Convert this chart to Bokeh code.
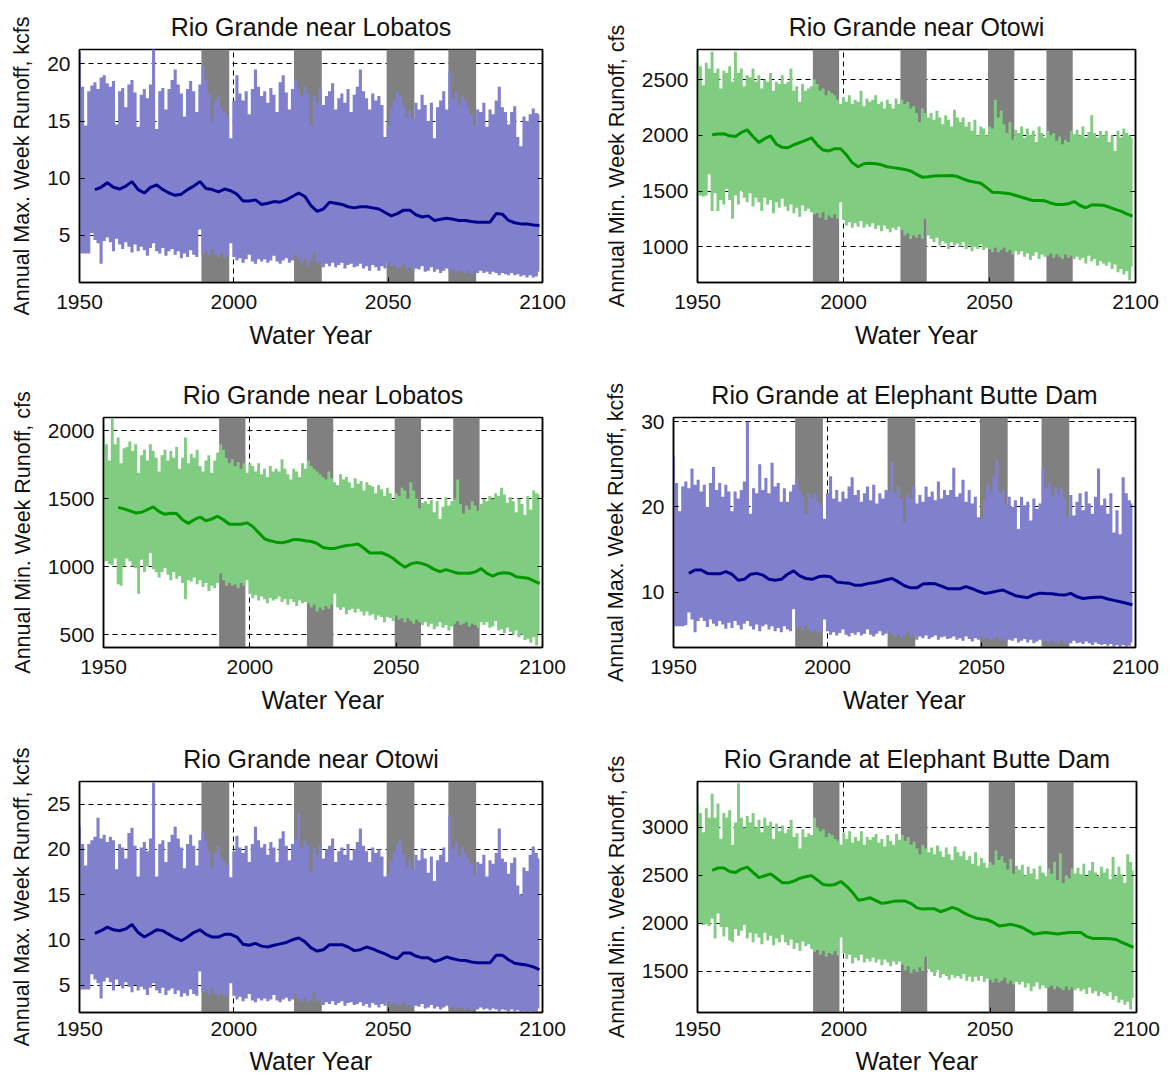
from bokeh.plotting import figure
from bokeh.layouts import row, column
from bokeh.models import ColumnDataSource, Range1d, FixedTicker, LinearAxis
from bokeh.embed import file_html
from bokeh.resources import INLINE

# ---------------- data ----------------
years = list(range(1950, 2100))
median_years = list(range(1955, 2100, 2))
x_ticks = [1950, 2000, 2050, 2100]
gray_left = [1989.5, 2019.5, 2049.5, 2069.5]
gray_right = [1998.5, 2028.5, 2058.5, 2078.5]

# Rio Grande near Lobatos, annual max week runoff (kcfs)
lobatos_max_hi = [
    21.0, 18.0, 14.6, 17.6, 18.1, 18.4, 17.8, 18.8, 19.0, 18.3,
    18.0, 18.5, 14.7, 17.6, 17.9, 16.2, 18.2, 18.6, 17.5, 14.5,
    17.3, 17.8, 17.0, 18.2, 21.3, 14.3, 17.6, 17.9, 16.0, 17.8,
    18.6, 19.5, 18.2, 17.4, 15.4, 17.8, 18.5, 17.6, 15.8, 18.2,
    19.8, 18.6, 17.4, 15.0, 16.8, 17.2, 16.2, 15.8, 15.4, 13.5,
    16.8, 19.0, 17.4, 16.8, 17.6, 15.6, 17.8, 19.5, 18.0, 17.2,
    17.6, 16.6, 17.9, 17.3, 15.8, 18.4, 19.0, 17.5, 16.0, 17.8,
    18.5, 17.8, 17.2, 18.0, 17.4, 14.6, 17.2, 16.6, 17.8, 16.4,
    17.2, 17.6, 18.3, 16.0, 17.0, 17.4, 16.6, 17.8, 15.8, 17.3,
    18.0, 19.5, 17.6, 17.0, 16.0, 17.4, 16.8, 17.2, 16.4, 13.6,
    14.6, 16.2, 16.9, 17.6, 17.2, 16.4, 15.3, 15.9, 15.2, 16.6,
    16.0, 17.3, 16.4, 15.0, 16.6, 13.5, 16.2, 16.8, 17.6, 16.0,
    19.3, 17.0, 17.6, 16.4, 17.2, 16.8, 16.2, 15.6, 14.6, 16.0,
    15.8, 16.6, 14.5, 16.0, 15.6, 16.8, 18.0, 16.2, 15.8, 14.7,
    15.8, 16.3, 13.6, 12.8, 15.4, 15.0, 15.6, 16.1, 15.7, 15.6,
]
lobatos_max_lo = [
    3.4, 3.4, 3.4, 3.4, 5.2, 4.6, 4.3, 2.5, 4.5, 4.8,
    4.4, 3.6, 4.7, 4.2, 3.8, 4.4, 4.0, 3.5, 4.2, 3.6,
    4.0, 3.7, 3.2, 3.9, 4.3, 3.6, 3.4, 3.9, 3.2, 3.6,
    3.8, 3.3, 3.6, 3.0, 3.4, 3.1, 3.7, 3.3, 3.1, 5.5,
    3.4, 3.6, 3.2, 3.8, 3.3, 3.1, 3.4, 3.0, 3.2, 4.3,
    3.1, 2.8, 3.0, 2.6, 2.9, 3.3, 2.7, 2.5, 2.9, 2.7,
    2.9, 2.6, 2.8, 3.2, 2.7, 2.5, 2.8, 3.0, 2.6, 2.8,
    3.3, 2.9, 2.6, 3.0, 2.4, 2.7, 3.5, 2.6, 2.8, 2.2,
    2.5, 2.3, 2.6, 2.2, 2.4, 2.6, 2.1, 2.4, 2.5, 2.2,
    2.3, 2.5, 2.1, 2.3, 1.9, 2.4, 2.2, 1.9, 2.3, 2.1,
    2.6, 2.3, 2.4, 2.1, 2.2, 2.5, 2.0, 2.2, 1.9, 2.1,
    2.0, 2.3, 1.8, 1.9, 2.2, 1.8, 2.0, 1.7, 1.9, 2.1,
    1.9, 2.0, 1.7, 1.9, 1.8, 1.7, 1.9, 1.6, 1.8, 1.7,
    1.9, 1.7, 1.8, 1.6, 1.8, 1.7, 1.5, 1.7, 1.6, 1.5,
    1.7, 1.5, 1.6, 1.4, 1.5, 1.3, 1.5, 1.3, 1.4, 1.8,
]
lobatos_max_med = [
    9.0, 9.2, 9.6, 9.2, 9.05, 9.3, 9.7, 9.0, 8.7, 9.2,
    9.4, 9.0, 8.7, 8.5, 8.6, 9.0, 9.3, 9.7, 9.1, 9.0,
    8.8, 9.05, 8.9, 8.6, 8.0, 8.0, 8.1, 7.7, 7.8, 7.95,
    7.9, 8.1, 8.4, 8.7, 8.4, 7.6, 7.1, 7.3, 7.9, 7.8,
    7.7, 7.5, 7.4, 7.5, 7.5, 7.4, 7.3, 7.0, 6.7, 6.9,
    7.2, 7.2, 6.8, 6.6, 6.7, 6.3, 6.4, 6.5, 6.4, 6.3,
    6.3, 6.2, 6.15, 6.15, 6.15, 6.9, 6.85, 6.3, 6.1, 6.0,
    6.0, 5.9, 5.85,
]

# Rio Grande near Otowi, annual min week runoff (cfs)
otowi_min_hi = [
    2700, 2620, 2450, 2650, 2600, 2750, 2560, 2600, 2420, 2580,
    2560, 2620, 2480, 2750, 2560, 2600, 2440, 2540, 2520, 2600,
    2480, 2540, 2420, 2500, 2480, 2560, 2400, 2480, 2460, 2540,
    2460, 2480, 2600, 2400, 2440, 2300, 2460, 2400, 2420, 2440,
    2500, 2460, 2400, 2420, 2360, 2400, 2380, 2360, 2320, 2280,
    2340, 2300, 2360, 2280, 2320, 2300, 2400, 2260, 2330, 2300,
    2320, 2360, 2280, 2300, 2240, 2320, 2280, 2240, 2330, 2280,
    2320, 2280, 2300, 2240, 2260, 2200, 2120, 2240, 2200, 2160,
    2200, 2140, 2220, 2160, 2100, 2180, 2140, 2080, 2230, 2160,
    2120, 2160, 2080, 2120, 2040, 2140, 2000, 2080, 2060, 2000,
    2080, 2060, 2320, 2160, 2220, 2100, 2020, 2120, 1960, 2050,
    2020, 2080, 1980, 2060, 2000, 2040, 1940, 2080, 2020, 1980,
    2040, 2000, 2020, 1950, 1990, 1920, 1960, 1940, 2040, 2010,
    2050, 2000, 2080, 1980, 2030, 2180, 2020, 1980, 2040, 2000,
    2040, 1940, 2000, 1860, 2040, 1980, 2060, 2020, 2000, 1980,
]
otowi_min_lo = [
    1460, 1460, 1450, 1460, 1650, 1320, 1480, 1320, 1420, 1380,
    1520, 1420, 1250, 1460, 1380, 1500, 1440, 1400, 1480, 1360,
    1440, 1400, 1320, 1440, 1380, 1420, 1300, 1400, 1350, 1430,
    1360, 1320, 1380, 1300, 1350, 1270, 1370, 1320, 1340, 1310,
    1290, 1300, 1260, 1310, 1240, 1280, 1260, 1290, 1250, 1400,
    1240, 1190, 1220, 1170, 1210, 1180, 1230, 1170, 1200, 1180,
    1210, 1160, 1190, 1140, 1190, 1160, 1130, 1170, 1150, 1180,
    1150, 1100, 1120, 1070, 1100, 1080, 1110, 1070, 1250, 1100,
    1070, 1040, 1080, 1010, 1050, 1030, 980, 1040, 1010, 1030,
    1000, 1040, 980, 1010, 960, 1000, 980, 1020, 970, 990,
    980, 950, 990, 950, 970, 990, 950, 970, 930, 960,
    930, 960, 910, 940, 880, 920, 950, 890, 930, 910,
    920, 940, 900, 930, 910, 890, 930, 900, 920, 890,
    910, 880, 900, 850, 920, 870, 890, 830, 870, 850,
    830, 860, 800, 840, 770, 800, 750, 780, 700, 820,
]
otowi_min_med = [
    2005, 2012, 2014, 1995, 1990, 2025, 2050, 1990, 1935, 1970,
    1995, 1920, 1892, 1888, 1915, 1935, 1955, 1978, 1915, 1868,
    1860, 1880, 1880, 1825, 1755, 1718, 1745, 1750, 1745, 1735,
    1718, 1710, 1702, 1694, 1680, 1650, 1624, 1628, 1634, 1636,
    1638, 1639, 1630, 1608, 1590, 1580, 1570, 1530, 1489, 1486,
    1482, 1475, 1460, 1444, 1428, 1414, 1414, 1412, 1392, 1378,
    1380, 1386, 1405, 1370, 1350, 1375, 1375, 1372, 1355, 1335,
    1320, 1295, 1275,
]

# Rio Grande near Lobatos, annual min week runoff (cfs)
lobatos_min_hi = [
    1950, 1900, 1780, 2095, 1900, 1950, 1760, 1870, 1880, 1920,
    1850, 1900, 1690, 1820, 1860, 1780, 1900, 1850, 1800, 1700,
    1820, 1860, 1780, 1850, 1800, 1880, 1720, 1800, 1950, 1760,
    1830, 1800, 1860, 1740, 1700, 1780, 1820, 1690, 1780, 1840,
    1900, 1860, 1800, 1760, 1790, 1740, 1770, 1720, 1760, 1690,
    1760, 1740, 1700, 1760, 1680, 1720, 1660, 1740, 1700, 1720,
    1700, 1790, 1720, 1680, 1640, 1720, 1700, 1660, 1760, 1720,
    1780, 1740, 1720, 1700, 1680, 1660, 1640, 1700, 1650, 1620,
    1600, 1680, 1640, 1660, 1620, 1580, 1650, 1610, 1630, 1560,
    1620, 1600, 1590, 1540, 1600, 1570, 1520, 1580, 1540, 1490,
    1540, 1520, 1580, 1560, 1500, 1620, 1560, 1500, 1430, 1470,
    1480, 1460, 1490, 1400, 1480, 1350, 1440, 1510, 1450, 1480,
    1500, 1640, 1460, 1390, 1450, 1420, 1480, 1450, 1410, 1460,
    1500, 1480, 1520, 1500, 1540, 1520, 1580, 1530, 1470, 1510,
    1480, 1400, 1500, 1460, 1380, 1520, 1420, 1560, 1540, 1530,
]
lobatos_min_lo = [
    1050, 1040, 1020, 1010, 1060, 870, 860, 1000, 1060, 1040,
    1000, 990, 800, 1050, 960, 1000, 1100, 980, 960, 920,
    960, 990, 940, 900, 960, 910, 930, 880, 760, 900,
    890, 920, 870, 900, 850, 880, 820, 860, 840, 880,
    950, 900, 860, 880, 860, 870, 840, 880, 860, 900,
    800, 770, 790, 750, 780, 760, 730, 770, 750, 760,
    780, 740, 760, 720, 760, 740, 710, 750, 730, 740,
    730, 700, 720, 670, 700, 680, 710, 690, 720, 800,
    700, 680, 700, 650, 680, 690, 660, 690, 670, 640,
    670, 640, 650, 610, 640, 630, 590, 630, 620, 600,
    640, 610, 620, 590, 620, 600, 580, 610, 590, 570,
    590, 560, 580, 540, 560, 590, 550, 570, 530, 560,
    580, 600, 570, 580, 590, 560, 580, 570, 550, 590,
    570, 590, 550, 560, 600, 530, 540, 510, 550, 520,
    500, 530, 480, 500, 460, 470, 440, 480, 420, 500,
]
lobatos_min_med = [
    1436, 1425, 1410, 1395, 1400, 1420, 1439, 1405, 1385, 1392,
    1390, 1345, 1318, 1345, 1365, 1337, 1350, 1371, 1345, 1312,
    1312, 1312, 1322, 1295, 1250, 1205, 1190, 1180, 1176, 1185,
    1200, 1198, 1190, 1185, 1170, 1140, 1134, 1134, 1145, 1155,
    1160, 1166, 1135, 1100, 1100, 1102, 1085, 1060, 1025, 995,
    1020, 1030, 1022, 1005, 980, 963, 978, 965, 951, 951,
    951, 960, 985, 950, 930, 950, 955, 950, 925, 920,
    915, 895, 875,
]

# Rio Grande at Elephant Butte Dam, annual max week runoff (kcfs)
butte_max_hi = [
    26.0, 22.8, 19.5, 22.4, 23.0, 22.2, 24.5, 22.6, 23.2, 21.8,
    22.6, 20.0, 22.8, 24.7, 22.0, 22.8, 21.2, 22.6, 21.8, 19.5,
    21.8, 21.0, 22.0, 23.0, 30.0, 19.2, 22.2, 21.6, 25.0, 22.0,
    23.4, 21.6, 25.2, 22.4, 22.8, 20.6, 22.2, 20.6, 21.8, 22.6,
    23.4, 22.0, 21.2, 19.2, 21.6, 21.0, 21.6, 20.6, 20.2, 18.6,
    21.6, 23.6, 21.0, 22.0, 20.6, 21.8, 21.0, 22.4, 23.5, 21.4,
    22.0, 20.6, 21.6, 22.4, 20.8, 22.6, 20.4, 21.6, 21.0, 22.0,
    21.8, 25.3, 21.6, 22.4, 21.0, 18.2, 21.4, 21.0, 22.4, 20.4,
    21.4, 20.6, 22.4, 21.2, 21.8, 20.8, 23.0, 21.0, 22.0, 21.4,
    22.0, 24.6, 21.2, 21.6, 23.2, 20.6, 22.0, 20.4, 21.2, 18.8,
    18.6, 20.8, 22.6, 21.8, 23.6, 25.5, 21.6, 22.0, 20.4, 21.2,
    20.0, 20.8, 17.4, 21.2, 20.2, 20.6, 18.4, 21.0, 19.8, 20.4,
    24.6, 22.2, 22.8, 21.2, 22.2, 21.6, 22.2, 21.0, 18.9, 21.4,
    19.0, 20.6, 21.6, 19.6, 21.8, 20.4, 19.2, 21.2, 24.5, 20.2,
    21.0, 19.2, 21.6, 17.0, 19.6, 16.8, 23.5, 21.6, 20.8, 20.4,
]
butte_max_lo = [
    6.0, 6.0, 6.0, 6.0, 6.1, 7.6, 6.8, 5.3, 6.6, 7.0,
    6.6, 5.9, 6.8, 6.3, 6.0, 6.6, 6.2, 5.7, 6.4, 5.8,
    6.6, 6.1, 5.6, 6.3, 6.6, 6.0, 5.6, 6.2, 5.4, 6.0,
    6.2, 5.6, 6.0, 5.4, 5.8, 5.3, 6.0, 5.6, 5.4, 8.0,
    5.7, 6.0, 5.5, 6.1, 5.5, 5.3, 5.6, 5.2, 5.4, 6.8,
    5.4, 5.0, 5.3, 4.9, 5.2, 5.6, 5.0, 4.8, 5.2, 5.0,
    5.3, 4.9, 5.1, 5.6, 5.0, 4.8, 5.1, 5.4, 4.9, 5.1,
    5.4, 5.0, 4.8, 5.1, 4.6, 4.9, 5.3, 4.8, 5.0, 4.4,
    4.8, 4.6, 4.9, 4.5, 4.7, 4.9, 4.4, 4.7, 4.8, 4.5,
    4.6, 4.8, 4.4, 4.6, 4.3, 4.8, 4.5, 4.2, 4.6, 4.4,
    4.8, 4.5, 4.6, 4.3, 4.5, 4.8, 4.3, 4.5, 4.2, 4.4,
    4.3, 4.6, 4.1, 4.3, 4.5, 4.1, 4.4, 4.0, 4.2, 4.4,
    4.2, 4.3, 4.0, 4.3, 4.1, 4.0, 4.3, 3.9, 4.1, 4.0,
    4.3, 4.0, 4.1, 3.9, 4.2, 4.0, 3.8, 4.1, 3.9, 3.8,
    3.9, 3.7, 3.9, 3.6, 3.8, 3.5, 3.8, 3.5, 3.7, 4.1,
]
butte_max_med = [
    12.2, 12.6, 12.6, 12.2, 12.15, 12.15, 12.4, 12.1, 11.4, 11.5,
    12.1, 12.2, 12.0, 11.5, 11.4, 11.5, 12.1, 12.5, 11.9, 11.6,
    11.5, 11.8, 11.9, 11.8, 11.2, 11.1, 11.05, 10.8, 10.8, 11.0,
    11.1, 11.25, 11.45, 11.6, 11.2, 10.75, 10.5, 10.5, 10.95, 11.0,
    10.98, 10.7, 10.4, 10.39, 10.4, 10.65, 10.4, 10.1, 9.85, 9.95,
    10.12, 10.25, 9.9, 9.58, 9.45, 9.35, 9.7, 9.88, 9.83, 9.8,
    9.7, 9.65, 9.85, 9.45, 9.25, 9.35, 9.41, 9.41, 9.2, 9.03,
    8.88, 8.7, 8.52,
]

# Rio Grande near Otowi, annual max week runoff (kcfs)
otowi_max_hi = [
    22.5, 20.6, 18.2, 20.6, 21.0, 21.4, 23.5, 21.2, 21.6, 20.8,
    21.4, 21.0, 17.8, 20.6, 20.2, 19.0, 21.8, 22.4, 20.4, 17.0,
    20.2, 20.8, 19.8, 21.2, 27.4, 17.0, 20.6, 21.0, 18.6, 20.8,
    21.6, 22.5, 21.2, 20.2, 17.9, 20.6, 21.6, 20.4, 18.2, 21.0,
    22.0, 21.0, 19.8, 18.0, 19.6, 20.4, 19.0, 18.6, 18.3, 16.9,
    19.8, 21.5, 20.2, 19.6, 20.4, 18.6, 20.6, 22.5, 21.0, 20.2,
    20.6, 19.4, 20.8, 20.2, 18.6, 21.2, 22.0, 20.4, 18.8, 20.6,
    21.2, 24.0, 20.2, 21.0, 20.4, 17.5, 20.2, 19.4, 20.6, 19.0,
    20.0, 20.4, 21.2, 18.6, 19.8, 20.2, 19.4, 20.6, 18.8, 20.0,
    20.8, 22.3, 20.4, 19.8, 18.6, 20.2, 19.6, 20.0, 19.2, 17.0,
    17.4, 18.8, 19.8, 20.6, 21.0, 19.4, 18.0, 18.8, 17.8, 19.4,
    18.8, 20.1, 19.0, 17.4, 19.2, 16.5, 18.8, 19.4, 20.2, 18.6,
    23.7, 20.0, 20.8, 19.2, 20.2, 19.6, 19.0, 18.4, 17.2, 18.6,
    18.4, 19.4, 17.0, 18.8, 18.4, 19.6, 22.3, 19.0, 18.6, 17.3,
    18.5, 19.1, 16.0, 15.0, 18.0, 17.6, 19.4, 20.3, 19.6, 19.0,
]
otowi_max_lo = [
    4.5, 4.5, 4.5, 4.5, 6.2, 5.6, 5.2, 3.5, 5.4, 5.8,
    5.3, 4.4, 5.6, 5.0, 4.6, 5.3, 4.8, 4.2, 5.0, 4.4,
    4.8, 4.5, 3.9, 4.7, 5.2, 4.4, 4.1, 4.7, 3.9, 4.4,
    4.6, 4.0, 4.4, 3.7, 4.1, 3.8, 4.5, 4.0, 3.8, 6.5,
    4.2, 4.4, 3.9, 4.6, 4.0, 3.8, 4.1, 3.7, 3.9, 5.2,
    3.8, 3.4, 3.7, 3.2, 3.5, 4.0, 3.3, 3.1, 3.5, 3.3,
    3.5, 3.2, 3.4, 3.9, 3.3, 3.1, 3.4, 3.6, 3.2, 3.4,
    4.0, 3.5, 3.2, 3.6, 3.0, 3.3, 4.2, 3.2, 3.4, 2.8,
    3.1, 2.9, 3.2, 2.8, 3.0, 3.2, 2.7, 3.0, 3.1, 2.8,
    2.9, 3.1, 2.7, 2.9, 2.5, 3.0, 2.8, 2.5, 2.9, 2.7,
    3.2, 2.9, 3.0, 2.7, 2.8, 3.1, 2.6, 2.8, 2.5, 2.7,
    2.6, 2.9, 2.4, 2.5, 2.8, 2.4, 2.6, 2.3, 2.5, 2.7,
    2.5, 2.6, 2.3, 2.5, 2.4, 2.3, 2.5, 2.2, 2.4, 2.3,
    2.5, 2.3, 2.4, 2.2, 2.4, 2.3, 2.1, 2.3, 2.2, 2.1,
    2.3, 2.1, 2.2, 2.0, 2.1, 1.9, 2.1, 1.9, 2.0, 2.4,
]
otowi_max_med = [
    10.7, 11.0, 11.4, 11.1, 11.0, 11.2, 11.7, 10.8, 10.3, 10.7,
    11.1, 11.0, 10.6, 10.2, 9.9, 10.3, 10.8, 11.1, 10.6, 10.3,
    10.3, 10.6, 10.6, 10.3, 9.5, 9.4, 9.6, 9.3, 9.2, 9.4,
    9.55, 9.7, 10.0, 10.2, 9.8, 9.1, 8.75, 8.9, 9.46, 9.46,
    9.46, 9.2, 8.8, 8.9, 9.2, 9.0, 8.7, 8.45, 8.1, 7.9,
    8.55, 8.55, 8.2, 8.0, 8.0, 7.6, 7.8, 8.1, 7.9, 7.75,
    7.7, 7.55, 7.45, 7.45, 7.45, 8.3, 8.3, 7.8, 7.4, 7.3,
    7.2, 7.0, 6.7,
]

# Rio Grande at Elephant Butte Dam, annual min week runoff (cfs)
butte_min_hi = [
    3250, 3150, 2950, 3200, 3100, 3350, 3100, 3250, 2880, 3150,
    3100, 3180, 2820, 3050, 3460, 3100, 3000, 3120, 3050, 3150,
    3000, 3080, 2950, 3100, 3020, 3060, 2880, 3040, 2960, 3020,
    2940, 2980, 3080, 2900, 2940, 2780, 2980, 2900, 2940, 2920,
    3100, 3000, 2960, 2980, 2900, 2940, 2920, 2880, 2860, 2820,
    2940, 2880, 2960, 2840, 2900, 2860, 2960, 2820, 2900, 2870,
    2900, 2930, 2840, 2880, 2800, 2920, 2860, 2820, 2930, 2870,
    2920, 2860, 2900, 2820, 2850, 2780, 2720, 2820, 2780, 2740,
    2790, 2720, 2810, 2750, 2690, 2790, 2720, 2660, 2800, 2740,
    2700, 2750, 2660, 2700, 2620, 2740, 2600, 2680, 2630, 2580,
    2640, 2610, 2760, 2660, 2700, 2630, 2560, 2670, 2520, 2600,
    2560, 2610, 2500, 2590, 2520, 2570, 2460, 2600, 2530, 2490,
    2570, 2520, 2640, 2450, 2730, 2420, 2500, 2470, 2570, 2520,
    2580, 2510, 2620, 2490, 2550, 2640, 2530, 2490, 2590, 2530,
    2570, 2460, 2690, 2490, 2590, 2510, 2420, 2720, 2640, 2550,
]
butte_min_lo = [
    2000, 1990, 1980, 1990, 1970, 2050, 1840, 2100, 1960, 1860,
    1960, 1820, 1800, 1940, 1870, 1920, 1980, 1840, 1900, 1800,
    1890, 1850, 1780, 1900, 1820, 1870, 1770, 1840, 1800, 1880,
    1800, 1770, 1830, 1730, 1790, 1710, 1810, 1760, 1780, 1730,
    1700, 1720, 1670, 1710, 1650, 1690, 1670, 1710, 1660, 1850,
    1690, 1630, 1670, 1580, 1640, 1610, 1670, 1590, 1630, 1600,
    1640, 1590, 1620, 1560, 1620, 1590, 1550, 1600, 1570, 1600,
    1570, 1510, 1550, 1480, 1520, 1490, 1540, 1500, 1650, 1520,
    1490, 1450, 1510, 1430, 1470, 1450, 1410, 1460, 1430, 1450,
    1420, 1470, 1400, 1440, 1390, 1440, 1400, 1450, 1390, 1420,
    1410, 1380, 1420, 1380, 1400, 1430, 1370, 1400, 1360, 1390,
    1360, 1390, 1330, 1370, 1290, 1340, 1380, 1310, 1350, 1320,
    1330, 1350, 1310, 1340, 1320, 1300, 1340, 1300, 1330, 1300,
    1320, 1290, 1310, 1260, 1330, 1270, 1290, 1240, 1280, 1260,
    1240, 1280, 1200, 1240, 1170, 1200, 1150, 1180, 1100, 1220,
]
butte_min_med = [
    2552, 2576, 2576, 2540, 2530, 2565, 2586, 2530, 2475, 2495,
    2515, 2470, 2421, 2421, 2440, 2470, 2485, 2497, 2450, 2403,
    2396, 2405, 2435, 2385, 2320, 2240, 2250, 2265, 2235, 2207,
    2217, 2228, 2231, 2231, 2205, 2160, 2147, 2150, 2150, 2120,
    2140, 2165, 2145, 2108, 2080, 2055, 2044, 2036, 2010, 1972,
    1978, 1988, 1975, 1955, 1920, 1886, 1895, 1902, 1895, 1887,
    1895, 1903, 1903, 1903, 1860, 1841, 1841, 1841, 1838, 1830,
    1800, 1775, 1748,
]

# ---------------- style ----------------
FONT = "Liberation Sans"
TXT = "#111111"
BLUE_BAND, BLUE_LINE = "#8080CC", "#00008C"
GREEN_BAND, GREEN_LINE = "#80CC80", "#009900"
GRAY = "#808080"


def panel(title, ylabel, y_lo, y_hi, y_ticks, hi, lo, med, band_color, line_color,
          width, height, left, right, top, bottom, tick_stand=12, label_stand=9):
    p = figure(width=width, height=height, x_range=Range1d(1950, 2100),
               y_range=Range1d(y_lo, y_hi), output_backend="svg",
               toolbar_location=None, title=title,
               min_border_left=left, min_border_right=right,
               min_border_top=top, min_border_bottom=bottom)
    p.background_fill_color = "white"
    p.border_fill_color = "white"
    p.outline_line_color = "black"
    p.outline_line_width = 1.5

    # dashed grid
    p.xgrid.ticker = FixedTicker(ticks=x_ticks)
    p.ygrid.ticker = FixedTicker(ticks=y_ticks)
    p.grid.grid_line_color = "black"
    p.grid.grid_line_dash = "5 4"
    p.grid.grid_line_width = 1

    # gray periods
    p.quad(left=gray_left, right=gray_right, bottom=y_lo, top=y_hi,
           fill_color=GRAY, line_color=None)

    # envelope band
    src = ColumnDataSource(dict(x=years, hi=hi, lo=lo))
    p.varea_step(x="x", y1="lo", y2="hi", step_mode="center", source=src,
                 fill_color=band_color)

    # median line
    p.line(median_years, med, line_color=line_color, line_width=3)

    # axes
    for ax in (p.xaxis, p.yaxis):
        ax.major_tick_in = 5
        ax.major_tick_out = 0
        ax.minor_tick_line_color = None
        ax.axis_line_color = "black"
        ax.axis_line_width = 1.5
        ax.major_tick_line_color = "black"
        ax.major_label_text_font = FONT
        ax.major_label_text_font_size = "21px"
        ax.major_label_text_color = TXT
        ax.axis_label_text_font = FONT
        ax.axis_label_text_font_style = "normal"
        ax.axis_label_text_color = TXT
    p.xaxis.ticker = FixedTicker(ticks=x_ticks)
    p.yaxis.ticker = FixedTicker(ticks=y_ticks)
    p.xaxis.axis_label = "Water Year"
    p.xaxis.axis_label_text_font_size = "25px"
    p.xaxis.major_label_standoff = tick_stand
    p.xaxis.axis_label_standoff = label_stand
    p.yaxis.axis_label = ylabel
    p.yaxis.axis_label_text_font_size = "21.5px"
    p.yaxis.major_label_standoff = 9
    p.yaxis.axis_label_standoff = 10

    # inward ticks on the right edge (no labels)
    ra = LinearAxis(ticker=FixedTicker(ticks=y_ticks), major_tick_in=5,
                    major_tick_out=0, minor_tick_line_color=None,
                    major_label_text_color=None, major_label_text_font_size="1px",
                    major_label_standoff=0, axis_line_color="black",
                    axis_line_width=1.5)
    p.add_layout(ra, "right")

    p.title.text_font = FONT
    p.title.text_font_size = "25px"
    p.title.text_font_style = "normal"
    p.title.text_color = TXT
    p.title.align = "center"
    p.title.vertical_align = "top"
    p.title.standoff = 14
    return p


LW, RW = 590, 578
p1 = panel("Rio Grande near Lobatos", "Annual Max. Week Runoff, kcfs",
           0.87, 21.26, [5, 10, 15, 20], lobatos_max_hi, lobatos_max_lo,
           lobatos_max_med, BLUE_BAND, BLUE_LINE, LW, 368, 79, 48, 49, 85)
p2 = panel("Rio Grande near Otowi", "Annual Min. Week Runoff, cfs",
           679, 2770, [1000, 1500, 2000, 2500], otowi_min_hi, otowi_min_lo,
           otowi_min_med, GREEN_BAND, GREEN_LINE, RW, 368, 107, 33, 49, 86)
p3 = panel("Rio Grande near Lobatos", "Annual Min. Week Runoff, cfs",
           405, 2097, [500, 1000, 1500, 2000], lobatos_min_hi, lobatos_min_lo,
           lobatos_min_med, GREEN_BAND, GREEN_LINE, LW, 360, 103, 48, 49, 80)
p4 = panel("Rio Grande at Elephant Butte Dam", "Annual Max. Week Runoff, kcfs",
           3.5, 30.5, [10, 20, 30], butte_max_hi, butte_max_lo,
           butte_max_med, BLUE_BAND, BLUE_LINE, RW, 360, 83, 33, 49, 81)
p5 = panel("Rio Grande near Otowi", "Annual Max. Week Runoff, kcfs",
           1.96, 27.5, [5, 10, 15, 20, 25], otowi_max_hi, otowi_max_lo,
           otowi_max_med, BLUE_BAND, BLUE_LINE, LW, 349, 79, 48, 52, 64,
           tick_stand=9, label_stand=8)
p6 = panel("Rio Grande at Elephant Butte Dam", "Annual Min. Week Runoff, cfs",
           1068, 3479, [1500, 2000, 2500, 3000], butte_min_hi, butte_min_lo,
           butte_min_med, GREEN_BAND, GREEN_LINE, RW, 349, 107, 32, 53, 63,
           tick_stand=9, label_stand=8)

layout = column(row(p1, p2), row(p3, p4), row(p5, p6))
open("out.html", "w").write(file_html(layout, INLINE))
